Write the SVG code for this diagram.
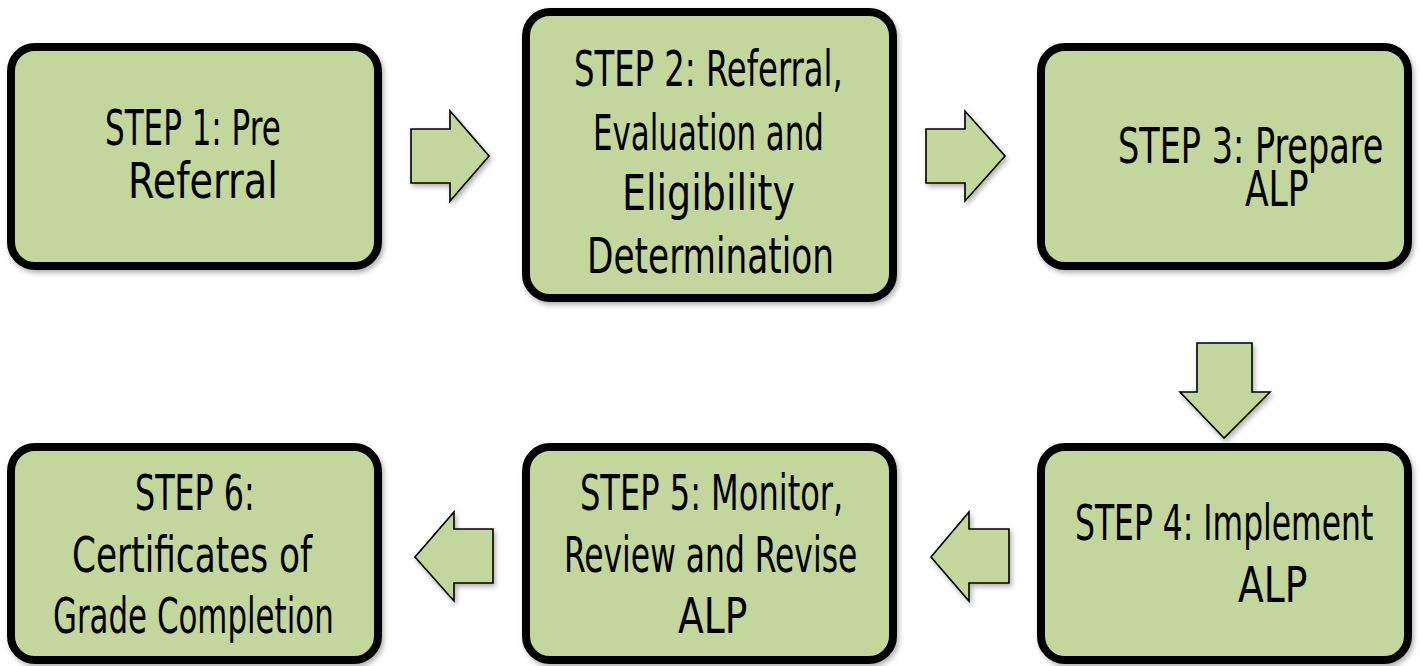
<svg xmlns="http://www.w3.org/2000/svg" width="1420" height="666" viewBox="0 0 1420 666">
<style>
.box{fill:#c3d69b;stroke:#000;stroke-width:8}
.arr{fill:#c3d69b;stroke:#000;stroke-width:1.6;stroke-linejoin:miter}
.t{font-family:"DejaVu Sans Condensed","Liberation Sans Narrow","Liberation Sans",sans-serif;font-size:49px;fill:#000}
</style>
<defs>
<filter id="sh" x="-10%" y="-10%" width="130%" height="130%">
<feDropShadow dx="2" dy="3" stdDeviation="2.5" flood-color="#000" flood-opacity="0.3"/>
</filter>
</defs>
<rect width="1420" height="666" fill="#fff"/>
<g id="connectors">
<polygon class="arr" filter="url(#sh)" points="411,129 450,129 450,111 489,156 450,201 450,183 411,183"/>
<polygon class="arr" filter="url(#sh)" points="926,129 965,129 965,111 1005,156 965,201 965,183 926,183"/>
<polygon class="arr" filter="url(#sh)" points="1197,343 1252,343 1252,392 1270,392 1224,438 1180,392 1197,392"/>
<polygon class="arr" filter="url(#sh)" points="1009,529 969,529 969,512 931,557 969,601 969,583 1009,583"/>
<polygon class="arr" filter="url(#sh)" points="493,529 454,529 454,512 415,557 454,601 454,583 493,583"/>
</g>
<g id="step1">
<rect class="box" filter="url(#sh)" x="11" y="47" width="367" height="219" rx="24"/>
<text class="t" transform="translate(105,145) scale(0.7,1)" textLength="251" lengthAdjust="spacingAndGlyphs">STEP 1: Pre</text>
<text class="t" transform="translate(128,198) scale(0.7,1)" textLength="214" lengthAdjust="spacingAndGlyphs">Referral</text>
</g>
<g id="step2">
<rect class="box" filter="url(#sh)" x="526" y="12" width="367" height="286" rx="24"/>
<text class="t" transform="translate(574,86) scale(0.7,1)" textLength="384" lengthAdjust="spacingAndGlyphs">STEP 2: Referral,</text>
<text class="t" transform="translate(593,150) scale(0.7,1)" textLength="330" lengthAdjust="spacingAndGlyphs">Evaluation and</text>
<text class="t" transform="translate(622,210) scale(0.7,1)" textLength="247" lengthAdjust="spacingAndGlyphs">Eligibility</text>
<text class="t" transform="translate(587,273) scale(0.7,1)" textLength="353" lengthAdjust="spacingAndGlyphs">Determination</text>
</g>
<g id="step3">
<rect class="box" filter="url(#sh)" x="1041" y="47" width="367" height="219" rx="24"/>
<text class="t" transform="translate(1118,163) scale(0.7,1)" textLength="379" lengthAdjust="spacingAndGlyphs">STEP 3: Prepare</text>
<text class="t" transform="translate(1245,206) scale(0.7,1)" textLength="91" lengthAdjust="spacingAndGlyphs">ALP</text>
</g>
<g id="step4">
<rect class="box" filter="url(#sh)" x="1041" y="447" width="367" height="213" rx="24"/>
<text class="t" transform="translate(1075,540) scale(0.7,1)" textLength="426" lengthAdjust="spacingAndGlyphs">STEP 4: Implement</text>
<text class="t" transform="translate(1238,602) scale(0.7,1)" textLength="99" lengthAdjust="spacingAndGlyphs">ALP</text>
</g>
<g id="step5">
<rect class="box" filter="url(#sh)" x="526" y="447" width="367" height="213" rx="24"/>
<text class="t" transform="translate(580,510) scale(0.7,1)" textLength="376" lengthAdjust="spacingAndGlyphs">STEP 5: Monitor,</text>
<text class="t" transform="translate(564,572) scale(0.7,1)" textLength="419" lengthAdjust="spacingAndGlyphs">Review and Revise</text>
<text class="t" transform="translate(678,633) scale(0.7,1)" textLength="99" lengthAdjust="spacingAndGlyphs">ALP</text>
</g>
<g id="step6">
<rect class="box" filter="url(#sh)" x="11" y="447" width="367" height="213" rx="24"/>
<text class="t" transform="translate(135,510) scale(0.7,1)" textLength="171" lengthAdjust="spacingAndGlyphs">STEP 6:</text>
<text class="t" transform="translate(72,572) scale(0.7,1)" textLength="343" lengthAdjust="spacingAndGlyphs">Certificates of</text>
<text class="t" transform="translate(53,633) scale(0.7,1)" textLength="401" lengthAdjust="spacingAndGlyphs">Grade Completion</text>
</g>
</svg>
